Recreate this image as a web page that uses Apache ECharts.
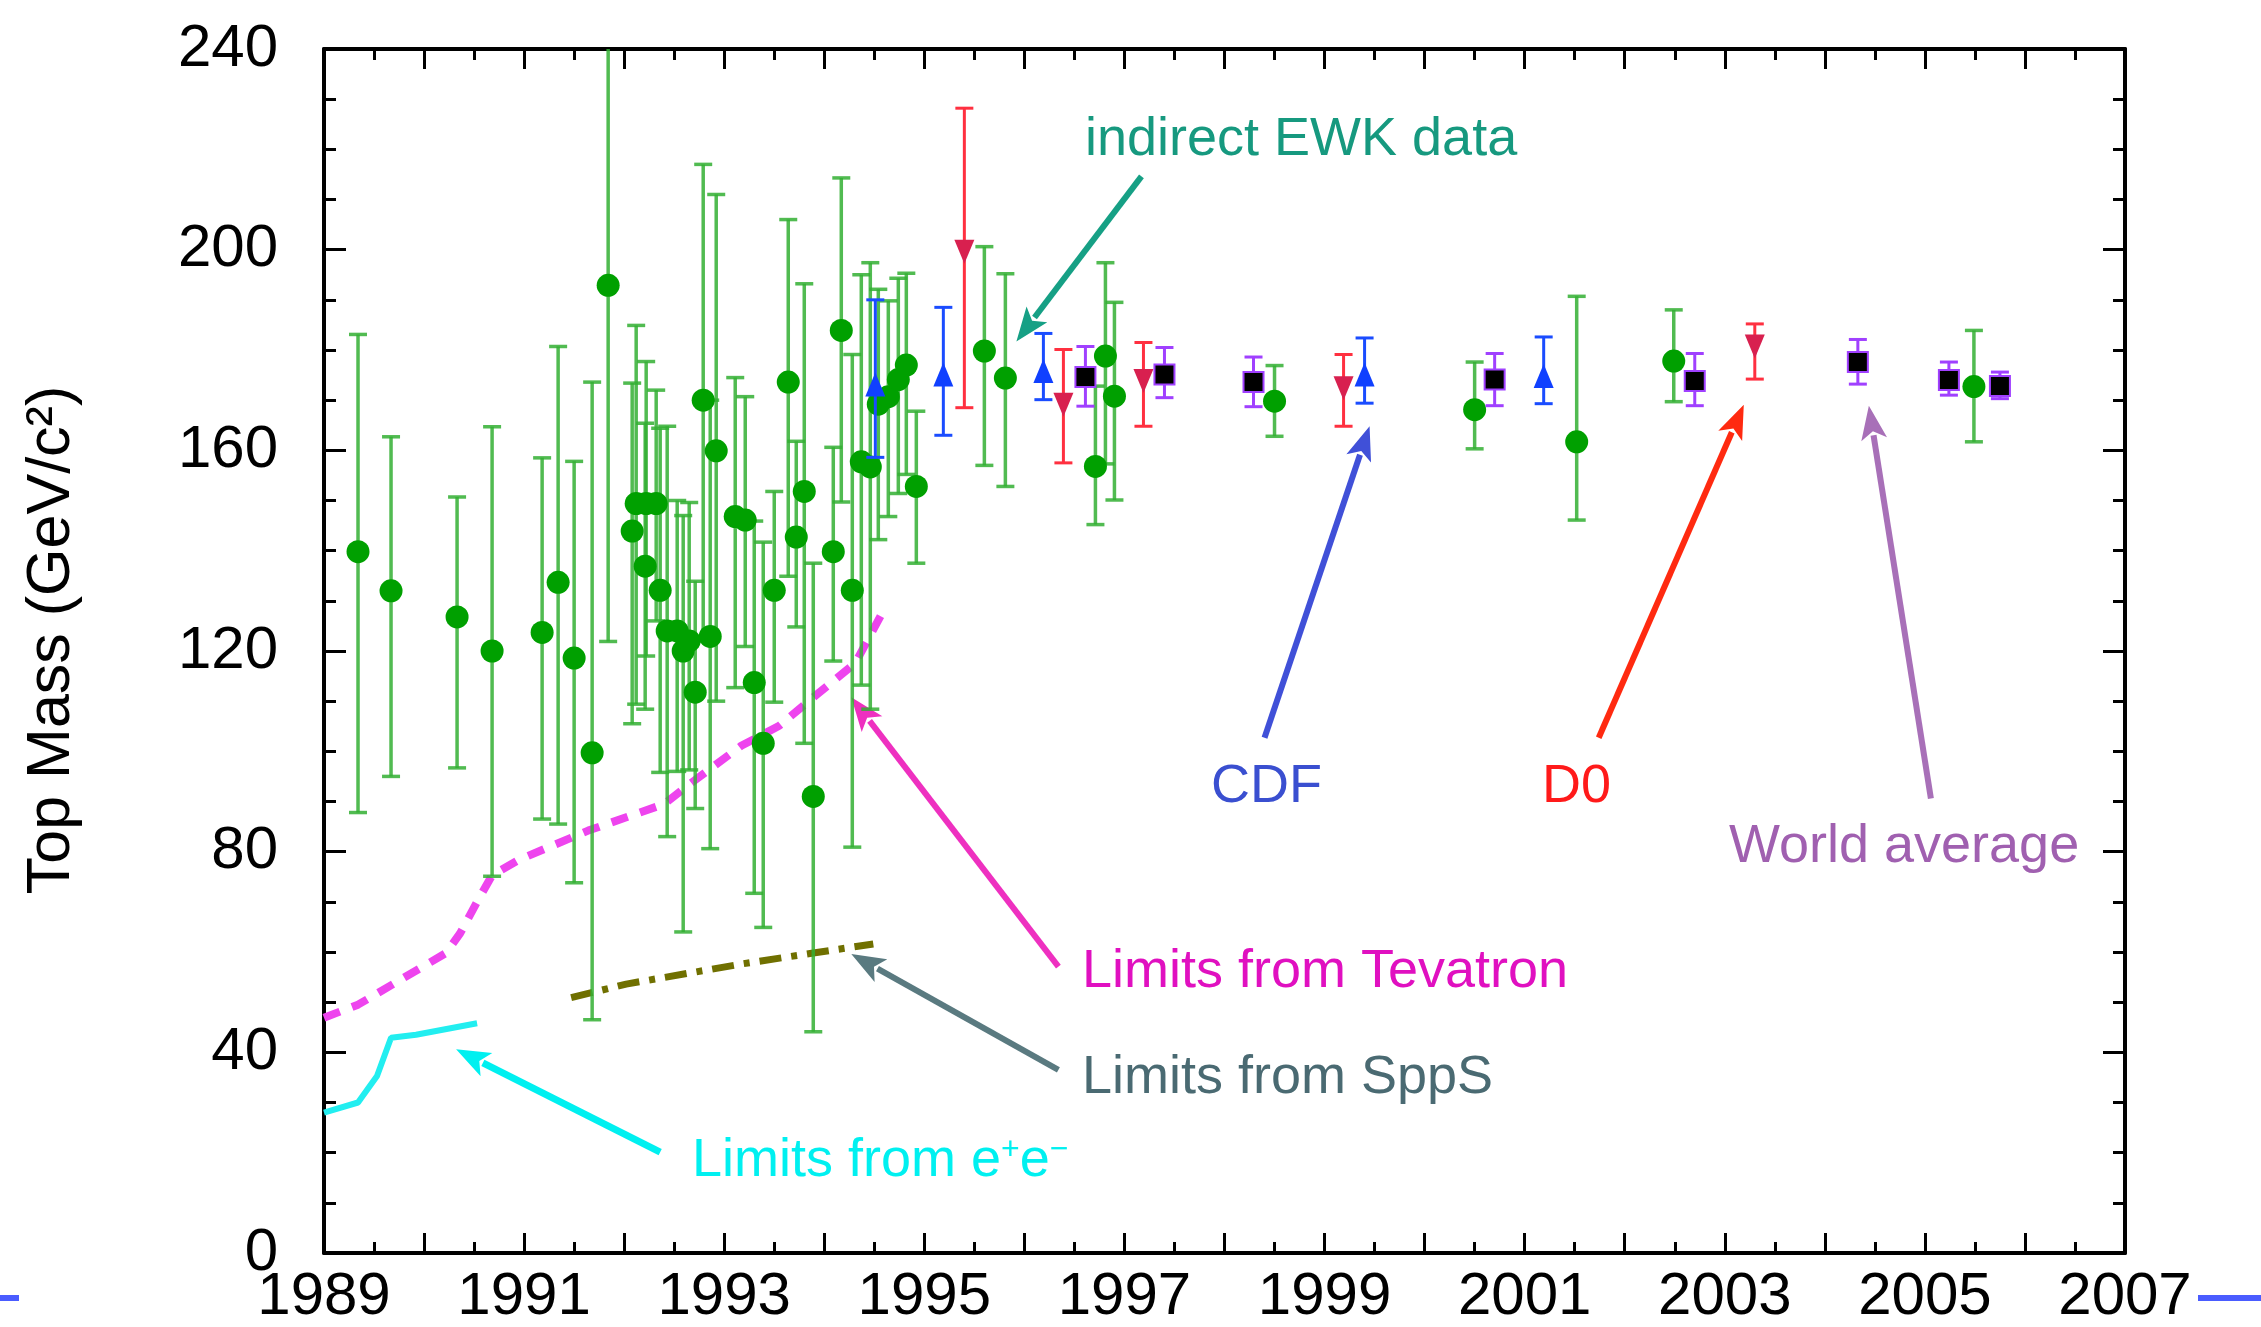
<!DOCTYPE html>
<html><head><meta charset="utf-8">
<script src="https://cdn.jsdelivr.net/npm/echarts@6/dist/echarts.min.js"></script>
<style>html,body{margin:0;padding:0;background:#fff}#c{width:2261px;height:1327px}</style>
</head><body><div id="c"></div>
<script>
// ---------------- DATA ----------------
const yearLabels = [1989, 1991, 1993, 1995, 1997, 1999, 2001, 2003, 2005, 2007];
const massLabels = [0, 40, 80, 120, 160, 200, 240];

// indirect electroweak determinations (green circles)
const ewkYear = [1989.34,1989.67,1990.33,1990.68,1991.18,1991.34,1991.50,1991.68,1991.84,
  1992.08,1992.12,1992.22,1992.32,1992.21,1992.36,1992.43,1992.53,1992.59,1992.65,1992.71,
  1992.79,1992.86,1992.92,1993.11,1993.21,1993.30,1993.39,1993.50,1993.64,1993.72,1993.80,
  1993.89,1994.09,1994.17,1994.28,1994.37,1994.46,1994.54,1994.64,1994.74,1994.82,1994.92,
  1995.60,1995.81,1996.71,1996.81,1996.90,1998.50,2000.50,2001.52,2002.49,2005.49];
const ewkMass = [139.8,132.0,126.8,120.0,123.7,133.7,118.6,99.7,192.9,
  143.9,149.4,149.4,149.4,136.9,132.1,124.0,124.0,120.0,122.0,111.8,
  170.0,122.9,159.9,146.8,146.1,113.7,101.6,132.1,173.6,142.7,151.8,
  91.0,139.8,183.9,132.1,157.7,156.7,169.2,170.7,174.1,177.0,152.8,
  179.8,174.4,156.8,178.8,170.8,169.8,168.1,161.7,177.8,172.7];
const ewkHigh = [183.1,162.7,150.7,164.7,158.5,180.7,157.8,173.6,245.0,
  173.4,184.9,177.7,172.0,165.4,164.4,164.8,150.0,147.0,149.6,133.9,
  217.0,170.0,211.0,174.5,170.7,145.9,141.7,151.8,206.0,161.8,193.2,
  137.5,160.6,214.3,179.1,195.0,197.4,192.1,189.8,194.3,195.3,167.8,
  200.6,195.2,172.8,197.4,189.5,176.9,177.6,190.7,188.0,183.9];
const ewkLow = [87.8,95.0,96.7,75.1,86.5,85.5,73.8,46.5,121.9,
  105.5,109.4,119.0,126.0,108.4,95.8,83.0,96.0,64.0,96.3,88.6,
  122.0,80.6,110.0,112.7,120.9,71.7,64.9,109.8,134.9,124.8,101.6,
  44.1,118.0,149.7,80.9,113.2,108.4,142.2,146.8,151.4,155.2,137.5,
  157.0,152.8,145.2,157.3,150.1,162.8,160.3,146.1,169.7,161.7];

// CDF (blue triangles)
const cdfYear = [1994.51,1995.19,1996.19,1999.40,2001.19];
const cdfMass = [173.1,175.1,175.8,175.1,174.8];
const cdfHigh = [190.0,188.5,183.3,182.4,182.6];
const cdfLow  = [158.6,163.0,170.1,169.4,169.3];

// D0 (red down triangles)
const d0Year = [1995.40,1996.39,1997.19,1999.19,2003.30];
const d0Mass = [199.6,169.1,173.8,172.4,180.7];
const d0High = [228.2,180.1,181.5,179.1,185.2];
const d0Low  = [168.5,157.5,164.8,164.8,174.2];

// World average (black squares)
const waYear = [1996.61,1997.40,1998.29,2000.70,2002.70,2004.33,2005.24,2005.75];
const waMass = [174.6,175.1,173.6,174.1,173.8,177.6,174.0,172.8];
const waHigh = [180.7,180.5,178.6,179.3,179.3,182.1,177.6,175.6];
const waLow  = [168.8,170.5,168.7,168.9,168.9,173.2,171.0,170.3];

// Lower limits
const tevYear = [1989.0,1989.34,1990.22,1990.36,1990.53,1990.68,1990.95,1991.64,1992.40,1992.63,1993.17,1993.55,1993.93,1994.31,1994.62];
const tevMass = [46.9,49.5,59.8,63.7,70.0,75.3,78.4,84.2,89.5,93.1,101.1,105.1,111.4,117.6,129.1];
const sppsYear = [1991.47,1992.02,1993.17,1993.89,1994.49];
const sppsMass = [50.9,53.6,57.6,59.8,61.6];
const eeYear = [1989.0,1989.34,1989.53,1989.67,1989.92,1990.53];
const eeMass = [28.0,30.0,35.3,42.9,43.5,45.8];

// annotation arrows: [tailYear, tailMass, tipYear, tipMass]
const arrowEWK = [1997.17,214.6,1995.92,181.7];
const arrowCDF = [1998.40,102.7,1999.45,164.8];
const arrowD0  = [2001.74,102.7,2003.19,169.1];
const arrowWA  = [2005.06,90.6,2004.44,168.9];
const arrowTev = [1996.34,57.1,1994.27,110.8];
const arrowSpp = [1996.34,36.5,1994.27,59.6];
const arrowEE  = [1992.36,20.1,1990.32,40.6];

// ---------------- CHART ----------------
const FONT = '"Liberation Sans", Arial, Helvetica, sans-serif';
const chart = echarts.init(document.getElementById('c'), null, {renderer: 'canvas'});
const YMAX = 240;

function zip(a, b, c) { return a.map((v, i) => c ? [v, b[i], c[i]] : [v, b[i]]); }

function errorBars(xs, lo, hi, color, capW, lw, z) {
  return {
    type: 'custom', z: z, silent: true,
    data: zip(xs, lo, hi),
    encode: {x: 0, y: [1, 2]},
    renderItem: function (params, api) {
      const x = api.value(0);
      const h = api.value(2);
      const top = api.coord([x, Math.min(h, YMAX)]);
      const bot = api.coord([x, api.value(1)]);
      const st = {stroke: color, lineWidth: lw};
      const ch = [{type: 'line', shape: {x1: top[0], y1: top[1], x2: bot[0], y2: bot[1]}, style: st}];
      if (h <= YMAX) ch.push({type: 'line', shape: {x1: top[0] - capW / 2, y1: top[1], x2: top[0] + capW / 2, y2: top[1]}, style: st});
      ch.push({type: 'line', shape: {x1: bot[0] - capW / 2, y1: bot[1], x2: bot[0] + capW / 2, y2: bot[1]}, style: st});
      return {type: 'group', children: ch};
    }
  };
}

const tickLine = {color: '#000', width: 3};
function xAx(pos, showLabel) {
  return {
    type: 'value', min: 1989, max: 2007, interval: 1, position: pos,
    axisLine: {show: true, onZero: false, lineStyle: {color: '#000', width: 4}},
    axisTick: {show: true, inside: true, length: 20, lineStyle: tickLine},
    minorTick: {show: true, splitNumber: 2, length: 11, lineStyle: tickLine},
    splitLine: {show: false},
    axisLabel: {show: showLabel, margin: 14, color: '#000', fontSize: 60, fontFamily: FONT,
      formatter: v => yearLabels.indexOf(Math.round(v)) >= 0 ? String(Math.round(v)) : ''}
  };
}
function yAx(pos, showLabel) {
  return {
    type: 'value', min: 0, max: 240, interval: 40, position: pos,
    axisLine: {show: true, onZero: false, lineStyle: {color: '#000', width: 4}},
    axisTick: {show: true, inside: true, length: 22, lineStyle: tickLine},
    minorTick: {show: true, splitNumber: 4, length: 12, lineStyle: tickLine},
    splitLine: {show: false},
    axisLabel: {show: showLabel, margin: 46, color: '#000', fontSize: 60, fontFamily: FONT,
      formatter: v => massLabels.indexOf(v) >= 0 ? String(v) : ''}
  };
}

const option = {
  backgroundColor: '#fff',
  animation: false,
  grid: {left: 324, top: 49, width: 1801, height: 1205, containLabel: false},
  xAxis: [xAx('bottom', true), xAx('top', false)],
  yAxis: [yAx('left', true), yAx('right', false)],
  series: [
    {type: 'line', data: zip(tevYear, tevMass), showSymbol: false, symbol: 'none', z: 2,
      lineStyle: {color: '#ee44ee', width: 8, type: [17, 13], cap: 'butt'}},
    {type: 'line', data: zip(sppsYear, sppsMass), showSymbol: false, symbol: 'none', z: 2,
      lineStyle: {color: '#707000', width: 7, type: [22, 10, 6, 10]}},
    {type: 'line', data: zip(eeYear, eeMass), showSymbol: false, symbol: 'none', z: 2,
      lineStyle: {color: '#22eef0', width: 6}},
    errorBars(ewkYear, ewkLow, ewkHigh, 'rgba(50,175,50,0.85)', 18, 3.5, 3),
    {type: 'scatter', data: zip(ewkYear, ewkMass), symbol: 'circle', symbolSize: 23, z: 4,
      itemStyle: {color: '#00a000', opacity: 1}},
    errorBars(cdfYear, cdfLow, cdfHigh, '#1a4cff', 18, 3, 5),
    {type: 'scatter', data: zip(cdfYear, cdfMass), symbol: 'triangle', symbolSize: [20, 24], z: 6,
      itemStyle: {color: '#1040ff', opacity: 1}},
    errorBars(d0Year, d0Low, d0High, '#ff3040', 18, 3, 5),
    {type: 'scatter', data: zip(d0Year, d0Mass), symbol: 'triangle', symbolRotate: 180, symbolSize: [20, 24], z: 6,
      itemStyle: {color: '#d8204f', opacity: 1}},
    errorBars(waYear, waLow, waHigh, '#a040ff', 18, 3, 7),
    {type: 'scatter', data: zip(waYear, waMass), symbol: 'rect', symbolSize: 20, z: 8,
      itemStyle: {color: '#000', borderColor: '#a040ff', borderWidth: 2, opacity: 1}}
  ]
};
chart.setOption(option);

// ---------------- annotations ----------------
function arrow(a, color, lw) {
  const p0 = chart.convertToPixel({gridIndex: 0}, [a[0], a[1]]);
  const p1 = chart.convertToPixel({gridIndex: 0}, [a[2], a[3]]);
  const dx = p1[0] - p0[0], dy = p1[1] - p0[1];
  const L = Math.sqrt(dx * dx + dy * dy), ux = dx / L, uy = dy / L;
  const hl = 34, hw = 13;
  const bx = p1[0] - ux * hl, by = p1[1] - uy * hl;
  return {
    type: 'group', children: [
      {type: 'line', shape: {x1: p0[0], y1: p0[1], x2: bx + ux * 4, y2: by + uy * 4}, style: {stroke: color, lineWidth: lw}},
      {type: 'polygon', shape: {points: [[p1[0], p1[1]], [bx - uy * hw, by + ux * hw], [bx + ux * 8, by + uy * 8], [bx + uy * hw, by - ux * hw]]},
        style: {fill: color}}
    ]
  };
}
function label(txt, x, y, color) {
  return {type: 'text', x: x, y: y, z: 20,
    style: {text: txt, fill: color, fontSize: 54, fontFamily: FONT, textAlign: 'left', textVerticalAlign: 'middle'}};
}

chart.setOption({
  graphic: [
    {type: 'text', x: 52, y: 640, rotation: Math.PI / 2, z: 20,
      style: {text: 'Top Mass (GeV/c²)', fill: '#000', fontSize: 61, fontFamily: FONT, textAlign: 'center', textVerticalAlign: 'middle'}},
    arrow(arrowEWK, '#16a085', 6),
    arrow(arrowCDF, '#4050d8', 6),
    arrow(arrowD0, '#ff2a10', 6),
    arrow(arrowWA, '#a870b8', 6),
    arrow(arrowTev, '#ee30c0', 6),
    arrow(arrowSpp, '#5a7a80', 6),
    arrow(arrowEE, '#00f0f0', 7),
    label('indirect EWK data', 1085, 140, '#16997f'),
    label('CDF', 1211, 787, '#3a4fd0'),
    label('D0', 1542, 787, '#ff1a1a'),
    label('World average', 1729, 847, '#a060b0'),
    label('Limits from Tevatron', 1082, 972, '#e010c0'),
    label('Limits from SppS', 1082, 1078, '#4a6a72'),
    {type: 'text', x: 692, y: 1161, z: 20,
      style: {text: '{a|Limits from e}{s|+}{a|e}{s|\u2212}', textVerticalAlign: 'middle',
        rich: {a: {fontSize: 54, fontFamily: FONT, fill: '#00f0f0'},
               s: {fontSize: 32, fontFamily: FONT, fill: '#00f0f0', verticalAlign: 'top'}}}},
    {type: 'rect', shape: {x: 0, y: 1295, width: 19, height: 6}, style: {fill: '#4a5cff'}},
    {type: 'rect', shape: {x: 2198, y: 1295, width: 63, height: 6}, style: {fill: '#4a5cff'}}
  ]
});
</script>
</body></html>
